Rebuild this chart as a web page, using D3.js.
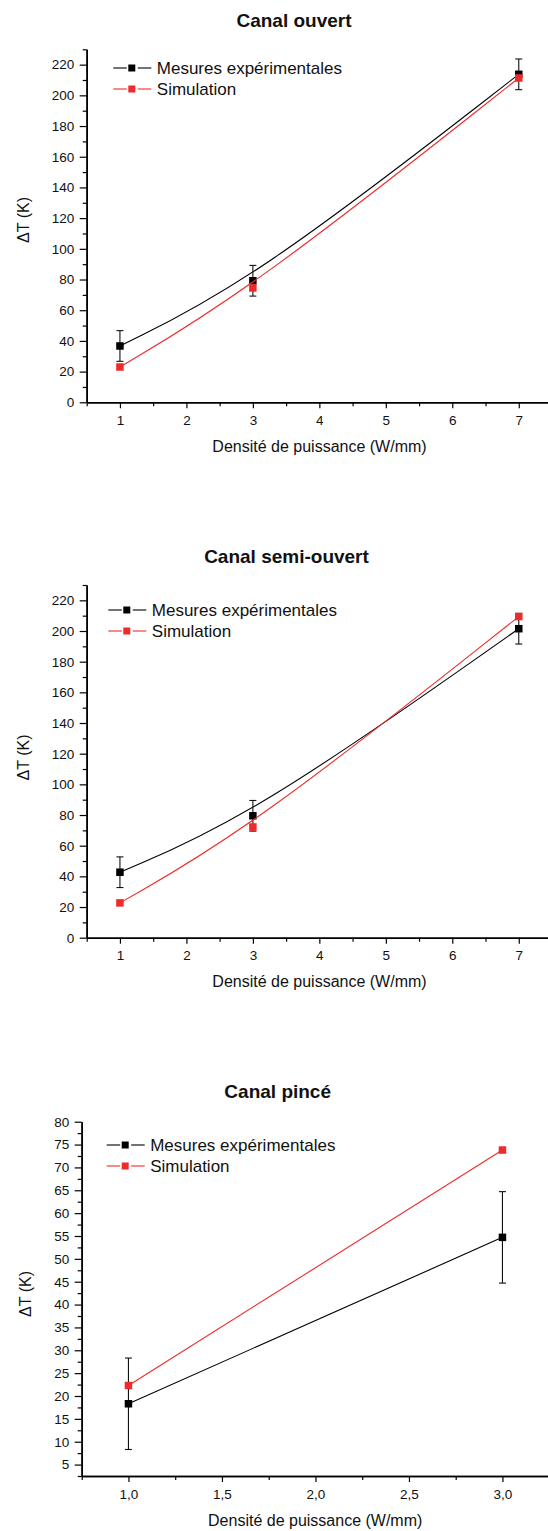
<!DOCTYPE html>
<html>
<head>
<meta charset="utf-8">
<script src="https://cdn.jsdelivr.net/npm/d3@7"></script>
<style>
  body { margin: 0; background: #fff; }
  svg text { font-family: "Liberation Sans", Arial, sans-serif; fill: #111; }
</style>
</head>
<body>
<div id="chart"></div>
<script>
// values (ΔT in K vs power density in W/mm)
const seriesNames = ["Mesures expérimentales", "Simulation"];
const seriesColors = ["#000000", "#ee2a2a"];

const puissance = [1, 3, 7];
const ouvertMesures = [36.7, 79.2, 213.7];
const ouvertSimulation = [23.0, 74.5, 211.3];
const ouvertErreur = [10, 10, 10];

const semiMesures = [42.7, 79.5, 201.5];
const semiSimulation = [22.7, 72.2, 209.4];
const semiErreur = [10, 10, 10];

const puissancePince = [1, 3];
const pinceMesures = [18.3, 54.7];
const pinceSimulation = [22.3, 73.8];
const pinceErreur = [10, 10];

// tick labels
const xTicks = [1, 2, 3, 4, 5, 6, 7];
const xMinor = [0.5, 1.5, 2.5, 3.5, 4.5, 5.5, 6.5, 7.5];
const yTicks = [0, 20, 40, 60, 80, 100, 120, 140, 160, 180, 200, 220];
const yMinor = [10, 30, 50, 70, 90, 110, 130, 150, 170, 190, 210, 230];
const xTicksPince = [1, 1.5, 2, 2.5, 3];
const xMinorPince = [0.75, 1.25, 1.75, 2.25, 2.75, 3.25];
const yTicksPince = [5, 10, 15, 20, 25, 30, 35, 40, 45, 50, 55, 60, 65, 70, 75, 80];
const yMinorPince = [2.5, 7.5, 12.5, 17.5, 22.5, 27.5, 32.5, 37.5, 42.5, 47.5, 52.5, 57.5, 62.5, 67.5, 72.5, 77.5];

const fr = d3.formatLocale({decimal: ",", thousands: " ", grouping: [3], currency: ["", " €"]});

const panels = [
  {
    title: "Canal ouvert", x: puissance, ys: [ouvertMesures, ouvertSimulation], err: ouvertErreur,
    curve: d3.curveBasis, xDomain: [0.5, 7.5], yDomain: [0, 230],
    xTicks: xTicks, xMinor: xMinor, yTicks: yTicks, yMinor: yMinor, xFormat: d3.format("d"),
    left: 86.7, right: 552, top: 49.3, bottom: 402.3,
    titleX: 294, titleY: 27.3, xLabelX: 319.5, yLabelY: 220, yLabelX: 28.5, legX: 113.3, legY: 68
  },
  {
    title: "Canal semi-ouvert", x: puissance, ys: [semiMesures, semiSimulation], err: semiErreur,
    curve: d3.curveBasis, xDomain: [0.5, 7.5], yDomain: [0, 230],
    xTicks: xTicks, xMinor: xMinor, yTicks: yTicks, yMinor: yMinor, xFormat: d3.format("d"),
    left: 86.7, right: 552, top: 585, bottom: 937.7,
    titleX: 286.5, titleY: 563.3, xLabelX: 319.5, yLabelY: 757.5, yLabelX: 28.5, legX: 108.3, legY: 610
  },
  {
    title: "Canal pincé", x: puissancePince, ys: [pinceMesures, pinceSimulation], err: pinceErreur,
    curve: d3.curveLinear, xDomain: [0.75, 3.25], yDomain: [2.5, 80],
    xTicks: xTicksPince, xMinor: xMinorPince, yTicks: yTicksPince, yMinor: yMinorPince, xFormat: fr.format(".1f"),
    left: 81.7, right: 549.2, top: 1121.7, bottom: 1476,
    titleX: 277.7, titleY: 1098.3, xLabelX: 315.2, yLabelY: 1294, yLabelX: 31, legX: 106.7, legY: 1145
  }
];

const svg = d3.select("#chart").append("svg")
  .attr("width", 548)
  .attr("height", 1531);

const markerSize = 7.5;

panels.forEach((p) => {
  const g = svg.append("g");
  const x = d3.scaleLinear().domain(p.xDomain).range([p.left, p.right]);
  const y = d3.scaleLinear().domain(p.yDomain).range([p.bottom, p.top]);

  // title
  g.append("text")
    .attr("x", p.titleX).attr("y", p.titleY)
    .attr("text-anchor", "middle")
    .style("font-size", "19px").style("font-weight", "bold")
    .text(p.title);

  // minor ticks
  g.append("g").attr("transform", `translate(0,${p.bottom})`)
    .call(d3.axisBottom(x).tickValues(p.xMinor).tickSize(4).tickSizeOuter(0).tickFormat(""));
  g.append("g").attr("transform", `translate(${p.left},0)`)
    .call(d3.axisLeft(y).tickValues(p.yMinor).tickSize(4).tickSizeOuter(0).tickFormat(""));

  // major ticks
  g.append("g").attr("transform", `translate(0,${p.bottom})`)
    .call(d3.axisBottom(x).tickValues(p.xTicks).tickSize(6).tickSizeOuter(0).tickPadding(7).tickFormat(p.xFormat));
  g.append("g").attr("transform", `translate(${p.left},0)`)
    .call(d3.axisLeft(y).tickValues(p.yTicks).tickSize(7).tickSizeOuter(0).tickPadding(5.5));

  g.selectAll(".domain").attr("stroke", "#000").attr("stroke-width", 1.6);
  g.selectAll(".tick line").attr("stroke", "#000").attr("stroke-width", 1.2);
  g.selectAll(".tick text").style("font-size", "13.5px").attr("fill", "#111");

  // axis titles
  g.append("text")
    .attr("x", p.xLabelX).attr("y", p.bottom + 49.5)
    .attr("text-anchor", "middle")
    .style("font-size", "16px")
    .text("Densité de puissance (W/mm)");
  g.append("text")
    .attr("transform", `translate(${p.yLabelX},${p.yLabelY}) rotate(-90)`)
    .attr("text-anchor", "middle")
    .style("font-size", "16px")
    .text("ΔT (K)");

  // series
  const line = d3.line().curve(p.curve).x((d) => x(d[0])).y((d) => y(d[1]));
  p.ys.forEach((vals, si) => {
    const pts = p.x.map((xv, i) => [xv, vals[i]]);
    g.append("path")
      .datum(pts)
      .attr("d", line)
      .attr("fill", "none")
      .attr("stroke", seriesColors[si])
      .attr("stroke-width", 1.1);

    if (si === 0) {
      // error bars on the measurements
      const eb = g.append("g").attr("stroke", "#111").attr("stroke-width", 1.1);
      pts.forEach((d, i) => {
        const cx = x(d[0]);
        const y0 = y(d[1] - p.err[i]);
        const y1 = y(d[1] + p.err[i]);
        eb.append("line").attr("x1", cx).attr("x2", cx).attr("y1", y0).attr("y2", y1);
        eb.append("line").attr("x1", cx - 3.5).attr("x2", cx + 3.5).attr("y1", y0).attr("y2", y0);
        eb.append("line").attr("x1", cx - 3.5).attr("x2", cx + 3.5).attr("y1", y1).attr("y2", y1);
      });
    }

    g.selectAll(null)
      .data(pts)
      .enter()
      .append("rect")
      .attr("x", (d) => x(d[0]) - markerSize / 2)
      .attr("y", (d) => y(d[1]) - markerSize / 2)
      .attr("width", markerSize)
      .attr("height", markerSize)
      .attr("fill", seriesColors[si]);
  });

  // legend
  seriesNames.forEach((name, si) => {
    const ly = p.legY + si * 21;
    const lg = g.append("g");
    lg.append("line").attr("x1", p.legX).attr("x2", p.legX + 13.5).attr("y1", ly).attr("y2", ly)
      .attr("stroke", seriesColors[si]).attr("stroke-width", 1.1);
    lg.append("line").attr("x1", p.legX + 24.5).attr("x2", p.legX + 38).attr("y1", ly).attr("y2", ly)
      .attr("stroke", seriesColors[si]).attr("stroke-width", 1.1);
    lg.append("rect")
      .attr("x", p.legX + 18.5 - 3.5).attr("y", ly - 3.5)
      .attr("width", 7).attr("height", 7)
      .attr("fill", seriesColors[si]);
    lg.append("text")
      .attr("x", p.legX + 43.5).attr("y", ly + 6)
      .style("font-size", "17px")
      .text(name);
  });
});
</script>
</body>
</html>
